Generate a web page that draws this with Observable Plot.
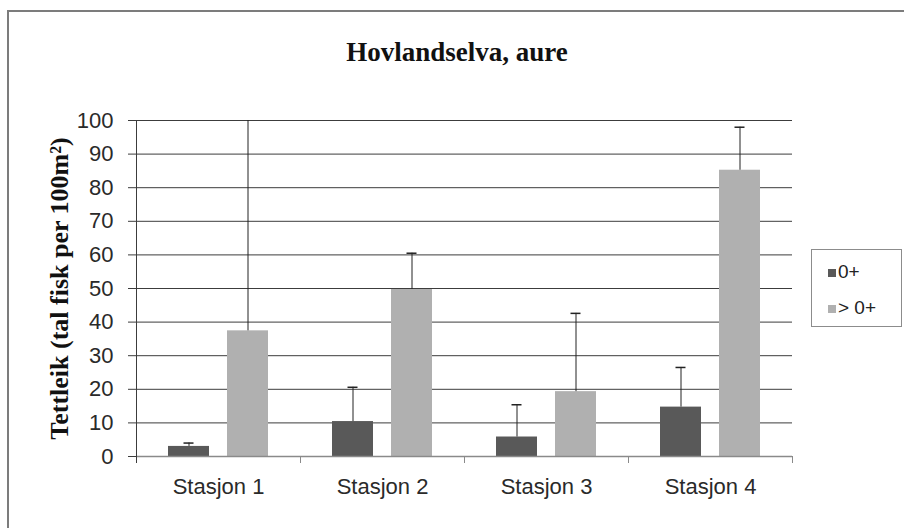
<!DOCTYPE html>
<html>
<head>
<meta charset="utf-8">
<script src="https://cdn.jsdelivr.net/npm/d3@7"></script>
<script src="https://cdn.jsdelivr.net/npm/@observablehq/plot@0.6"></script>
<style>
  html, body { margin: 0; padding: 0; background: #fff; }
  #page { position: relative; width: 904px; height: 528px; overflow: hidden; background: #fff; }
  #border { position: absolute; left: 7px; top: 10px; width: 1000px; height: 1000px;
    border-left: 2px solid #7c7c7c; border-top: 2px solid #7c7c7c; box-sizing: border-box; }
  #title { position: relative; height: 90px; box-sizing: border-box; padding-top: 35px; padding-left: 10px;
    line-height: 34px; text-align: center; font-family: "Liberation Serif", serif; font-weight: bold;
    font-size: 27px; color: #111; }
  #chart { position: relative; }
  #legend { position: absolute; left: 811px; top: 249px; width: 91px; height: 78px; box-sizing: border-box;
    border: 1px solid #8c8c8c; background: #fff; font-family: "Liberation Sans", Arial, sans-serif;
    font-size: 19px; color: #222; }
  .item { position: absolute; left: 16px; height: 20px; line-height: 20px; }
  .sw { display: inline-block; width: 8px; height: 8px; margin-right: 2px; vertical-align: 1px; }
</style>
</head>
<body>
<div id="page">
  <div id="border"></div>
  <div id="title">Hovlandselva, aure</div>
  <div id="chart"></div>
  <div id="legend"></div>
</div>
<script>
// ---- data ----
const stations = ["Stasjon 1", "Stasjon 2", "Stasjon 3", "Stasjon 4"];
const series = ["0+", "> 0+"];
const colors = ["#595959", "#b0b0b0"];
const values0 = [3.0, 10.4, 5.8, 14.7];        // 0+
const upper0 = [4.0, 20.6, 15.4, 26.5];        // 0+ error bar top
const values1 = [37.4, 49.7, 19.3, 85.2];      // > 0+
const upper1 = [110, 60.5, 42.6, 98.0];        // > 0+ error bar top
const yTicks = [0, 10, 20, 30, 40, 50, 60, 70, 80, 90, 100];
const yLabel = "Tettleik (tal fisk per 100m²)";

const table = [];
stations.forEach((s, i) => {
  table.push({station: s, series: series[0], value: values0[i], hi: upper0[i]});
  table.push({station: s, series: series[1], value: values1[i], hi: upper1[i]});
});

const plot = Plot.plot({
  width: 904,
  height: 438,
  marginTop: 30,
  marginBottom: 72,
  marginLeft: 136,
  marginRight: 112,
  style: {fontFamily: "'Liberation Sans', Arial, sans-serif", fontSize: "22px", color: "#2a2a2a", background: "transparent"},
  fx: {domain: stations, padding: 0, label: null},
  x: {domain: series, paddingInner: 0.305, paddingOuter: 0.54, axis: null},
  y: {domain: [0, 100], label: null},
  color: {domain: series, range: colors},
  marks: [
    Plot.gridY(yTicks, {stroke: "#3c3c3c", strokeOpacity: 1}),
    Plot.barY(table, {fx: "station", x: "series", y: "value", fill: "series"}),
    Plot.ruleX(table, {fx: "station", x: "series", y1: "value", y2: "hi", stroke: "#222", clip: true}),
    Plot.tickY(table, {fx: "station", x: "series", y: "hi", stroke: "#222", strokeWidth: 1.5, insetLeft: 15.5, insetRight: 15.5, clip: true}),
    Plot.ruleY([0], {stroke: "#8a8a8a", strokeWidth: 1.5}),
    Plot.frame({anchor: "left", facetAnchor: "left", stroke: "#3c3c3c", insetBottom: -6}),
    Plot.frame({anchor: "right", stroke: "#8a8a8a", insetTop: 336, insetBottom: -6}),
    Plot.axisY(yTicks, {anchor: "left", tickSize: 8, tickPadding: 15, stroke: "#3c3c3c", label: null, fill: "#2a2a2a"}),
    Plot.axisFx({anchor: "bottom", tickSize: 0, tickPadding: 22, label: null, fill: "#2a2a2a"}),
    Plot.text([yLabel], {text: d => d, frameAnchor: "left", facetAnchor: "left", rotate: -90, dx: -77,
      textAnchor: "middle", lineAnchor: "middle",
      fontSize: 26, fontWeight: "bold", fontFamily: "'Liberation Serif', serif", fill: "#111"})
  ]
});
document.getElementById("chart").appendChild(plot);

// legend
const legend = document.getElementById("legend");
const tops = [12, 48];
series.forEach((s, i) => {
  const item = document.createElement("div");
  item.className = "item";
  item.style.top = tops[i] + "px";
  const sw = document.createElement("span");
  sw.className = "sw";
  sw.style.background = colors[i];
  item.appendChild(sw);
  item.appendChild(document.createTextNode(s));
  legend.appendChild(item);
});
</script>
</body>
</html>
